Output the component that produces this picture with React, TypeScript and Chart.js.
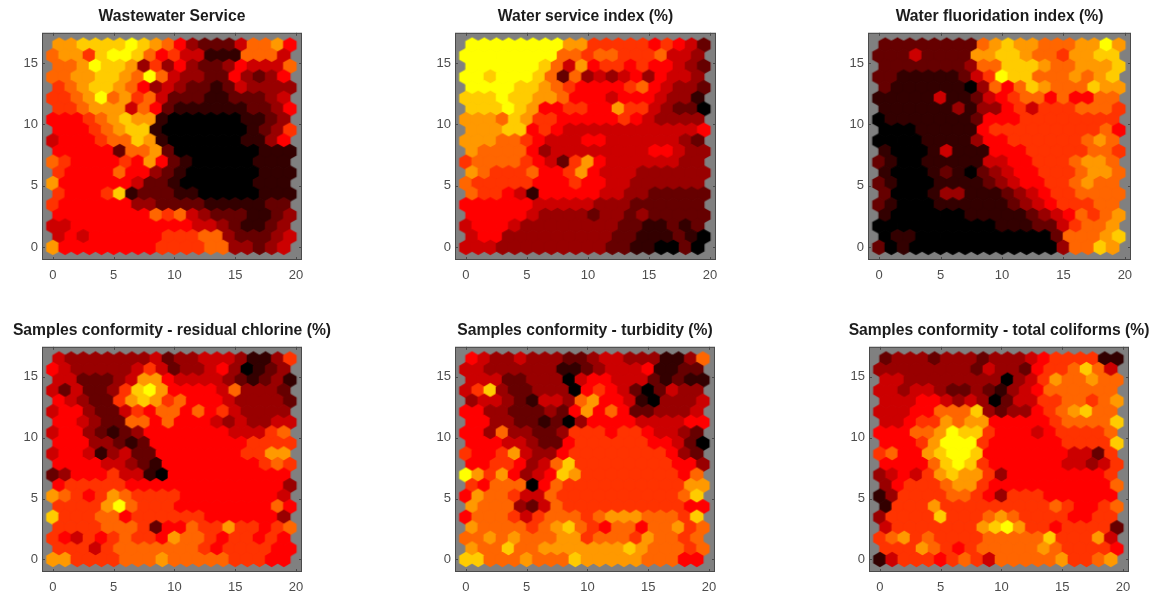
import React, { useEffect, useRef } from "react";
import { Chart, registerables } from "chart.js";

Chart.register(...registerables);

// Heat level of each map unit (0 = black, 5 = red, 10 = yellow), listed row by row from the top row down.
const wastewaterService = [
  [8,8,9,9,9,9,10,9,8,7,5,3,2,2,2,4,7,7,8,5],
  [7,8,8,6,9,10,10,9,7,5,6,4,4,1,1,1,7,7,7,4],
  [7,7,8,10,9,9,8,3,6,3,5,3,2,2,3,5,4,4,4,7],
  [7,7,8,8,9,9,8,7,10,7,4,3,3,2,2,5,3,2,3,5],
  [6,7,8,9,9,8,7,5,3,4,3,2,2,1,2,4,3,3,3,3],
  [6,6,7,8,10,7,8,6,7,4,2,2,2,1,1,2,2,2,3,4],
  [6,6,7,8,8,8,4,7,5,2,1,1,1,1,1,1,2,2,3,5],
  [5,5,5,6,7,8,9,8,8,1,0,0,0,0,0,0,1,1,2,3],
  [5,5,5,6,7,8,9,9,1,0,0,0,0,0,0,0,1,2,3,6],
  [4,5,5,5,6,7,7,9,8,1,0,0,0,0,0,0,1,1,3,5],
  [5,5,5,5,5,2,7,7,8,2,0,0,0,0,0,0,0,1,1,1],
  [7,6,5,5,5,5,6,5,8,5,2,1,0,0,0,0,0,1,1,1],
  [6,5,5,5,5,7,5,5,3,2,1,0,0,0,0,0,0,1,1,1],
  [8,5,5,5,5,5,5,4,2,2,1,0,0,0,0,0,0,1,1,1],
  [6,5,5,5,6,9,1,2,2,2,1,1,0,0,0,0,0,1,1,1],
  [6,5,5,5,5,5,5,3,3,2,2,2,2,1,1,1,1,1,2,2],
  [5,5,5,5,5,5,5,5,7,6,7,4,3,2,2,2,1,1,2,3],
  [4,4,5,5,5,5,5,5,5,5,5,5,4,4,3,2,1,1,2,3],
  [4,5,4,5,5,5,5,5,5,6,6,6,7,7,3,2,2,2,3,4],
  [8,5,5,5,5,5,5,5,5,6,6,6,6,7,7,3,3,2,3,4],
];

const waterServiceIndex = [
  [10,10,10,10,10,10,10,10,8,8,6,6,6,6,6,5,6,5,4,2],
  [10,10,10,10,10,10,10,10,7,7,6,7,7,6,6,6,7,4,4,3],
  [10,10,10,10,10,10,9,7,4,8,5,6,6,5,6,5,5,4,3,2],
  [10,10,9,10,10,10,9,7,2,7,3,4,3,4,5,3,5,4,4,3],
  [10,10,10,10,9,9,8,7,6,5,5,5,5,6,7,5,4,3,3,2],
  [9,9,9,10,9,9,8,8,7,5,5,5,4,5,5,5,4,3,3,1],
  [9,9,9,10,9,8,5,5,6,6,5,5,8,6,6,4,3,2,2,0],
  [8,8,8,7,9,8,6,6,5,5,5,5,5,6,5,4,3,3,3,3],
  [8,8,8,9,9,5,6,5,4,4,4,4,4,4,4,4,4,4,4,5],
  [8,8,8,7,7,6,5,4,4,4,5,5,4,4,4,4,4,4,3,2],
  [8,7,7,7,7,5,3,4,4,4,4,4,4,4,4,5,5,4,3,3],
  [6,7,7,7,7,6,5,4,2,6,8,5,4,4,4,4,4,4,3,3],
  [8,7,6,6,6,7,5,5,6,8,5,4,4,4,3,3,3,3,3,3],
  [7,6,6,6,6,6,5,5,5,6,5,5,4,4,3,3,3,3,3,3],
  [7,6,6,5,4,1,5,5,5,5,5,4,4,3,3,2,2,2,2,2],
  [5,5,5,5,5,5,4,4,4,4,4,3,3,3,2,2,2,2,2,2],
  [5,5,5,5,5,4,3,3,3,3,2,3,3,2,3,2,2,2,2,2],
  [4,5,5,5,4,3,3,3,3,3,3,3,3,2,2,1,1,2,1,2],
  [4,5,5,3,3,3,3,3,3,3,3,3,2,2,1,1,1,2,1,0],
  [4,4,4,3,3,3,3,3,3,3,3,3,2,2,1,1,0,0,2,0],
];

const waterFluoridationIndex = [
  [2,2,2,2,2,2,2,2,7,8,9,8,8,7,7,7,8,8,10,8],
  [2,2,2,4,2,2,2,2,8,8,9,9,8,7,7,6,8,8,9,9],
  [2,2,2,2,2,2,2,3,7,7,9,9,9,8,7,7,8,8,8,9],
  [2,2,1,1,1,1,1,2,4,6,10,9,9,7,7,7,8,7,8,9],
  [2,1,1,1,1,1,1,0,3,7,5,7,9,8,7,7,7,9,8,8],
  [1,1,1,1,1,4,1,1,2,4,5,6,7,7,5,7,5,5,7,7],
  [1,1,1,1,1,1,3,1,3,3,5,6,4,6,6,6,7,7,7,6],
  [0,1,1,1,1,1,1,1,2,5,5,5,6,6,6,6,6,6,6,6],
  [0,0,0,1,1,1,1,1,5,6,6,6,6,6,6,6,6,6,7,5],
  [0,0,0,0,1,1,1,1,3,5,5,6,6,6,6,6,6,7,8,7],
  [1,0,0,0,1,4,1,1,1,5,5,5,6,6,6,6,6,7,7,6],
  [2,1,0,0,1,1,1,1,1,4,4,5,5,6,6,6,7,8,8,7],
  [1,0,0,0,1,2,1,0,2,3,4,5,5,6,6,6,7,8,8,7],
  [2,1,0,0,0,1,1,1,1,2,3,4,5,5,6,6,7,8,7,7],
  [2,0,0,0,1,3,3,1,1,1,2,3,4,5,6,6,7,7,7,7],
  [2,1,0,0,0,1,1,1,1,1,1,2,3,4,5,6,6,6,7,7],
  [1,0,0,0,0,0,0,1,1,1,1,1,2,3,4,5,7,6,7,8],
  [0,0,0,0,0,0,0,0,0,0,1,1,1,2,2,4,6,7,7,8],
  [0,1,1,0,0,0,0,0,0,0,0,0,0,0,2,7,7,7,8,9],
  [2,0,1,0,0,0,0,0,0,0,0,0,0,0,0,3,7,7,9,8],
];

const residualChlorine = [
  [4,3,3,3,3,3,3,3,4,2,3,3,4,4,4,3,1,1,3,6],
  [5,4,3,3,3,3,3,4,6,4,2,3,3,4,5,3,0,1,2,3],
  [4,4,2,2,2,3,4,8,8,5,4,4,4,4,3,2,1,2,3,1],
  [4,2,4,2,2,3,6,9,10,8,5,5,5,5,4,7,3,3,3,2],
  [5,4,3,2,2,6,8,9,8,6,7,5,5,5,4,3,3,3,3,2],
  [4,5,5,3,2,2,4,6,5,7,7,5,7,5,6,4,3,3,3,3],
  [5,5,4,3,2,2,7,7,5,7,5,5,5,4,3,4,3,3,4,4],
  [4,5,5,3,2,1,2,3,5,5,5,5,5,5,5,4,4,4,6,7],
  [5,5,5,3,3,2,1,2,5,5,5,5,5,5,5,5,6,6,6,6],
  [4,5,5,4,1,3,4,2,2,5,5,5,5,5,5,5,6,6,8,8],
  [5,5,5,5,4,4,3,2,1,5,5,5,5,5,5,5,5,6,7,6],
  [2,3,5,5,5,6,4,4,1,0,5,5,5,5,5,5,5,5,5,5],
  [5,6,6,6,6,6,5,5,5,5,5,5,5,5,5,5,5,5,5,3],
  [8,7,6,5,6,8,7,6,6,6,6,5,5,5,5,5,5,5,5,4],
  [6,6,6,6,8,10,7,6,6,6,5,5,5,5,5,5,5,5,7,5],
  [9,6,6,6,7,7,5,6,6,6,6,6,6,5,5,5,5,5,5,3],
  [6,6,6,6,7,7,7,6,2,5,5,7,6,6,8,6,6,5,6,7],
  [6,5,4,6,5,6,7,6,6,5,8,7,7,6,5,6,6,5,6,5],
  [6,6,6,4,6,7,7,7,7,7,7,7,6,5,6,6,6,6,5,5],
  [8,8,6,6,6,6,7,7,7,8,7,7,7,7,7,6,6,6,5,5],
];

const turbidity = [
  [5,4,3,3,4,3,3,3,2,2,3,4,4,3,3,3,1,1,3,7],
  [4,4,3,3,3,3,3,3,1,1,2,3,4,4,4,5,1,1,2,2],
  [4,4,4,2,2,3,3,3,0,4,5,5,4,4,4,2,1,2,1,1],
  [4,6,9,3,2,2,3,3,3,0,5,6,5,4,2,0,2,4,3,3],
  [3,4,4,3,2,1,4,4,3,7,8,5,5,4,1,0,3,3,3,4],
  [5,5,3,3,2,2,2,3,2,5,8,5,7,5,2,2,3,3,3,4],
  [5,5,3,3,2,2,1,2,0,3,5,5,5,5,4,4,4,4,5,5],
  [5,5,3,7,3,3,2,2,3,6,6,6,5,6,6,5,4,4,3,2],
  [5,5,5,4,4,3,2,2,5,6,6,6,6,6,6,5,5,4,2,0],
  [6,5,5,6,8,4,3,3,5,6,6,6,6,6,6,6,6,5,3,2],
  [5,5,6,6,5,3,4,7,9,6,6,6,6,6,6,6,6,5,5,3],
  [10,8,6,8,5,3,4,5,9,8,6,6,6,6,6,6,6,6,5,7],
  [6,5,7,7,7,0,5,7,6,6,6,6,6,6,6,6,6,6,8,8],
  [5,8,7,7,6,4,4,7,6,6,6,6,6,6,6,6,6,6,7,9],
  [8,7,7,7,3,2,4,7,6,6,6,6,6,6,6,6,6,6,5,5],
  [5,7,7,7,6,4,6,7,7,7,6,7,8,8,8,7,7,7,6,9],
  [8,7,7,7,7,6,7,8,9,7,6,5,7,7,5,7,7,8,6,7],
  [7,7,8,7,8,7,7,7,8,8,6,7,7,7,6,8,7,7,6,7],
  [8,7,7,9,7,7,8,8,8,8,8,8,8,9,8,7,7,7,6,7],
  [9,9,7,7,7,8,7,7,7,9,8,8,8,8,8,7,7,7,5,5],
];

const totalColiforms = [
  [2,3,3,3,2,3,3,3,2,3,3,3,4,5,6,6,6,6,1,1],
  [3,3,3,3,3,3,3,3,2,4,3,3,2,5,6,6,7,9,7,4],
  [4,4,3,3,3,3,3,3,3,3,0,3,4,6,8,7,7,8,7,7],
  [4,4,3,4,4,3,2,2,3,2,1,3,4,5,7,7,7,7,7,7],
  [4,4,4,5,5,4,3,4,3,0,2,4,4,6,6,7,7,6,7,8],
  [4,4,4,5,5,7,7,7,9,3,2,3,3,5,6,7,8,9,7,7],
  [4,4,5,6,6,8,7,8,8,5,5,5,5,5,6,7,7,7,7,9],
  [5,5,5,7,7,8,10,9,9,6,5,5,5,4,5,6,6,6,6,7],
  [5,5,5,6,8,10,10,10,6,5,5,5,5,5,5,6,6,6,6,9],
  [6,7,5,5,8,9,10,10,9,5,5,5,5,5,5,5,4,4,2,6],
  [5,5,5,5,7,9,10,9,6,5,5,5,5,5,5,4,4,3,4,6],
  [3,4,5,4,6,8,9,8,8,6,3,5,5,5,5,5,5,5,5,6],
  [3,5,6,6,6,7,8,8,6,5,5,5,5,5,5,5,5,5,5,7],
  [1,3,6,6,6,6,7,7,6,5,3,6,6,6,5,5,5,5,5,5],
  [1,6,6,6,8,6,6,6,6,6,6,6,6,6,7,6,5,5,6,7],
  [3,6,6,6,6,9,6,6,6,7,8,7,6,6,6,6,5,5,6,6],
  [4,6,6,6,6,6,6,6,8,9,10,8,6,6,5,6,6,6,6,2],
  [6,7,8,6,7,6,6,6,6,7,7,7,7,7,9,6,6,6,8,4],
  [6,6,6,8,7,6,5,6,7,7,7,7,7,8,7,6,6,6,6,5],
  [1,4,6,6,6,5,6,7,6,4,7,7,7,7,7,8,6,6,7,8],
];

const panelTitles = [
  "Wastewater Service",
  "Water service index (%)",
  "Water fluoridation index (%)",
  "Samples conformity - residual chlorine (%)",
  "Samples conformity - turbidity (%)",
  "Samples conformity - total coliforms (%)",
];
const panelValues = [wastewaterService, waterServiceIndex, waterFluoridationIndex, residualChlorine, turbidity, totalColiforms];
const xTickValues = [0, 5, 10, 15, 20];
const yTickValues = [0, 5, 10, 15];

// Plot boxes in page pixels: left, top, width, height.
const panelBoxes = [
  [42, 33, 260, 227],
  [455, 33, 261, 227],
  [868, 33, 263, 227],
  [42, 347, 260, 225],
  [455, 347, 260, 225],
  [869, 347, 260, 225],
];

const ROW_STEP = Math.sqrt(3) / 2;
const SIDE = 45;
const AXIS_W = 30;
const AXIS_H = 26;
const TITLE_FONT = 15.7;
const TITLE_H = Math.round(TITLE_FONT * 1.2) + 7;

function heatColor(level: number) {
  const r = level <= 5 ? Math.round((255 * level) / 5) : 255;
  const g = level > 5 ? Math.round((255 * (level - 5)) / 5) : 0;
  return `rgb(${r},${g},0)`;
}

const sprites = new Map<string, HTMLCanvasElement>();
function hexSprite(level: number, w: number, h: number) {
  const key = `${level}/${w.toFixed(2)}/${h.toFixed(2)}`;
  let c = sprites.get(key);
  if (c) return c;
  c = document.createElement("canvas");
  c.width = Math.ceil(w) + 6;
  c.height = Math.ceil(h * 1.2) + 6;
  const g = c.getContext("2d")!;
  const cx = c.width / 2;
  const cy = c.height / 2;
  const hw = w / 2 + 0.7;
  const hh = h * 0.57735 + 0.7;
  g.fillStyle = heatColor(level);
  g.beginPath();
  g.moveTo(cx, cy - hh);
  g.lineTo(cx + hw, cy - hh / 2);
  g.lineTo(cx + hw, cy + hh / 2);
  g.lineTo(cx, cy + hh);
  g.lineTo(cx - hw, cy + hh / 2);
  g.lineTo(cx - hw, cy - hh / 2);
  g.closePath();
  g.fill();
  sprites.set(key, c);
  return c;
}

const framePlugin = {
  id: "frame",
  beforeDatasetsDraw(chart: any) {
    const { ctx, chartArea: a } = chart;
    ctx.save();
    ctx.fillStyle = "#808080";
    ctx.fillRect(a.left, a.top, a.right - a.left, a.bottom - a.top);
    ctx.restore();
  },
  afterDatasetsDraw(chart: any) {
    const { ctx, chartArea: a, scales } = chart;
    ctx.save();
    ctx.strokeStyle = "#4a4a4a";
    ctx.lineWidth = 1;
    ctx.strokeRect(a.left + 0.5, a.top + 0.5, a.right - a.left - 1, a.bottom - a.top - 1);
    ctx.beginPath();
    xTickValues.forEach((v) => {
      const x = Math.round(scales.x.getPixelForValue(v)) + 0.5;
      ctx.moveTo(x, a.bottom);
      ctx.lineTo(x, a.bottom - 3);
      ctx.moveTo(x, a.top);
      ctx.lineTo(x, a.top + 3);
    });
    yTickValues.forEach((v) => {
      const y = Math.round(scales.y.getPixelForValue(v)) + 0.5;
      ctx.moveTo(a.left, y);
      ctx.lineTo(a.left + 3, y);
      ctx.moveTo(a.right, y);
      ctx.lineTo(a.right - 3, y);
    });
    ctx.stroke();
    ctx.restore();
  },
};

function Panel({ index }: { index: number }) {
  const ref = useRef<HTMLCanvasElement>(null);
  const [left, top, width, height] = panelBoxes[index];
  const cw = width + SIDE * 2;
  const ch = height + TITLE_H + AXIS_H;

  useEffect(() => {
    const rows = panelValues[index];
    const points: { x: number; y: number; v: number }[] = [];
    rows.forEach((row, i) => {
      const r = rows.length - 1 - i;
      row.forEach((v, c) => points.push({ x: c + (r % 2 ? 0.5 : 0), y: r * ROW_STEP, v }));
    });
    const chart = new Chart(ref.current!, {
      type: "scatter",
      data: {
        datasets: [
          {
            data: points,
            showLine: false,
            pointRadius: 6,
            pointStyle: (ctx: any) => {
              const p = ctx.raw;
              const { x, y } = ctx.chart.scales;
              const w = Math.abs(x.getPixelForValue(1) - x.getPixelForValue(0));
              const h = Math.abs(y.getPixelForValue(1) - y.getPixelForValue(0));
              return hexSprite(p ? p.v : 0, w, h);
            },
          } as any,
        ],
      },
      plugins: [framePlugin],
      options: {
        responsive: false,
        animation: false,
        events: [],
        layout: { padding: { left: SIDE - AXIS_W, right: SIDE - AXIS_W, top: 0, bottom: 0 } },
        plugins: {
          legend: { display: false },
          tooltip: { enabled: false },
          title: {
            display: true,
            text: panelTitles[index],
            color: "#1c1c1c",
            font: { family: "'Liberation Sans', Arial, sans-serif", size: TITLE_FONT, weight: "bold", lineHeight: 1.2 },
            padding: { top: 0, bottom: 7 },
          },
        },
        scales: {
          x: {
            type: "linear",
            min: -0.9,
            max: 20.5,
            border: { display: false },
            grid: { display: false, drawTicks: false },
            afterBuildTicks: (s: any) => {
              s.ticks = xTickValues.map((value) => ({ value }));
            },
            afterFit: (s: any) => {
              s.height = AXIS_H;
              s.paddingLeft = 0;
              s.paddingRight = 0;
            },
            ticks: {
              color: "#4d4d4d",
              maxRotation: 0,
              autoSkip: false,
              padding: 8,
              font: { family: "'Liberation Sans', Arial, sans-serif", size: 13 },
            },
          },
          y: {
            type: "linear",
            min: -1.03,
            max: 17.45,
            border: { display: false },
            grid: { display: false, drawTicks: false },
            afterBuildTicks: (s: any) => {
              s.ticks = yTickValues.map((value) => ({ value }));
            },
            afterFit: (s: any) => {
              s.width = AXIS_W;
              s.paddingTop = 0;
              s.paddingBottom = 0;
            },
            ticks: {
              color: "#4d4d4d",
              autoSkip: false,
              padding: 4,
              font: { family: "'Liberation Sans', Arial, sans-serif", size: 13 },
            },
          },
          // Empty axis on the right, so the title centres over the plot box.
          y2: {
            type: "linear",
            position: "right",
            border: { display: false },
            grid: { display: false, drawTicks: false },
            ticks: { display: false },
            afterFit: (s: any) => {
              s.width = AXIS_W;
              s.paddingTop = 0;
              s.paddingBottom = 0;
            },
          },
        },
      },
    } as any);
    return () => chart.destroy();
  }, [index]);

  return (
    <canvas
      ref={ref}
      width={cw}
      height={ch}
      style={{
        position: "absolute",
        left: left - SIDE,
        top: top - TITLE_H,
        width: cw,
        height: ch,
        filter: "blur(0.7px)",
      }}
    />
  );
}

export default function App() {
  useEffect(() => {
    document.body.style.margin = "0";
    document.body.style.background = "#fff";
  }, []);
  return (
    <div style={{ position: "relative", width: 1154, height: 596, overflow: "hidden", background: "#fff" }}>
      {panelTitles.map((_, i) => (
        <Panel key={i} index={i} />
      ))}
    </div>
  );
}
